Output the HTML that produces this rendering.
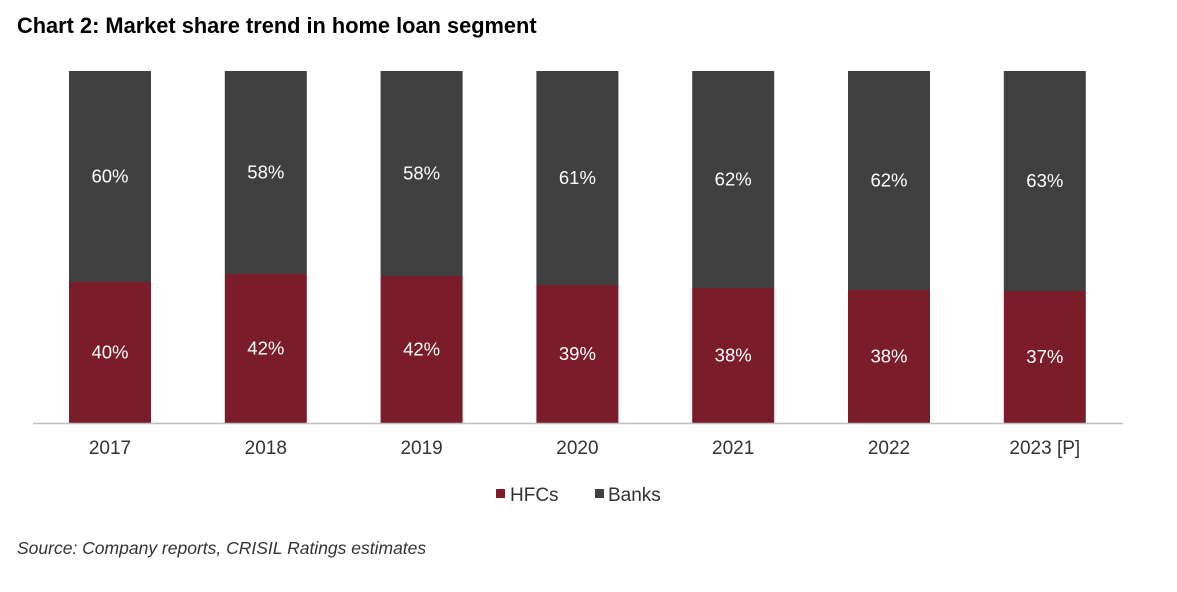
<!DOCTYPE html>
<html><head><style>
body{margin:0;width:1177px;height:592px;background:#fff;font-family:"Liberation Sans",sans-serif;position:relative;overflow:hidden}
.t{position:absolute;white-space:nowrap}
</style></head><body>
<div class="t" style="left:17px;top:13px;font-size:21.8px;font-weight:bold;color:#000">Chart 2: Market share trend in home loan segment</div>
<svg width="1177" height="592" style="position:absolute;left:0;top:0" font-family="Liberation Sans, sans-serif">
<g id="bars"></g>
<line x1="33" y1="423.5" x2="1123" y2="423.5" stroke="#bfbfbf" stroke-width="1.5"/>
<rect x="496" y="489" width="9" height="9" fill="#7b1c2a"/>
<text x="510" y="501" font-size="19" fill="#333">HFCs</text>
<rect x="595" y="489" width="9" height="9" fill="#404040"/>
<text x="608" y="501" font-size="19" fill="#333">Banks</text>
</svg>
<div class="t" style="left:17px;top:538px;font-size:17.5px;font-style:italic;color:#333">Source: Company reports, CRISIL Ratings estimates</div>
<script>
var d=[["2017",60,40,282],["2018",58,42,274],["2019",58,42,276],["2020",61,39,285],["2021",62,38,288],["2022",62,38,290],["2023 [P]",63,37,291]];
var g=document.getElementById('bars'),h='';
d.forEach(function(r,i){var x=69+i*155.8,c=x+41;
h+='<rect x="'+x+'" y="71" width="82" height="'+(r[3]-71)+'" fill="#404040"/>';
h+='<rect x="'+x+'" y="'+r[3]+'" width="82" height="'+(423-r[3])+'" fill="#7b1c2a"/>';
h+='<text x="'+c+'" y="'+((71+r[3])/2+6)+'" font-size="18.5" fill="#fff" text-anchor="middle">'+r[1]+'%</text>';
h+='<text x="'+c+'" y="'+((r[3]+423)/2+6)+'" font-size="18.5" fill="#fff" text-anchor="middle">'+r[2]+'%</text>';
h+='<text x="'+c+'" y="454" font-size="19" fill="#333" text-anchor="middle">'+r[0]+'</text>';});
g.innerHTML=h;
</script>
</body></html>
